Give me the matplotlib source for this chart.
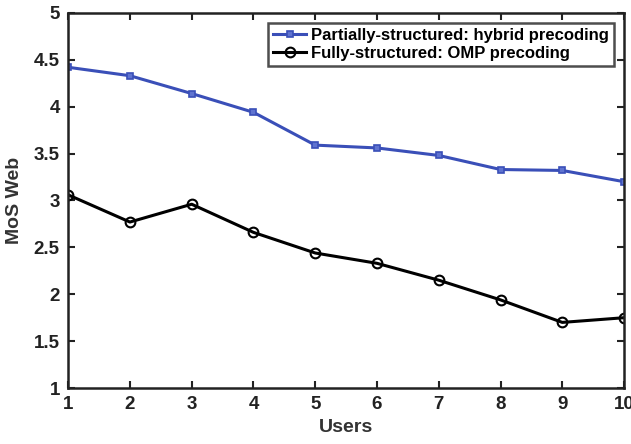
import matplotlib
matplotlib.use("Agg")
import matplotlib.pyplot as plt

users = [1, 2, 3, 4, 5, 6, 7, 8, 9, 10]
hybrid = [4.42, 4.33, 4.14, 3.94, 3.59, 3.56, 3.48, 3.33, 3.32, 3.20]
omp = [3.06, 2.77, 2.96, 2.66, 2.44, 2.33, 2.15, 1.94, 1.70, 1.75]
xticks = [1, 2, 3, 4, 5, 6, 7, 8, 9, 10]
yticks = [1, 1.5, 2, 2.5, 3, 3.5, 4, 4.5, 5]
ytick_labels = ["1", "1.5", "2", "2.5", "3", "3.5", "4", "4.5", "5"]

plt.rcParams['font.family'] = ['Liberation Sans', 'DejaVu Sans']
plt.rcParams['font.weight'] = 'bold'

fig = plt.figure(figsize=(6.31, 4.44), dpi=100)
ax = fig.add_axes([0.108, 0.126, 0.881, 0.845])

ax.plot(users, hybrid, color='#3a4fb8', lw=2.2, marker='s', ms=5,
        mfc='#5f73d0', mec='#3a4fb8', mew=1.2,
        label='Partially-structured: hybrid precoding')
ax.plot(users, omp, color='black', lw=2.2, marker='o', ms=7,
        mfc='none', mec='black', mew=1.5,
        label='Fully-structured: OMP precoding')

ax.set_xlim(1, 10)
ax.set_ylim(1, 5)
ax.set_xticks(xticks)
ax.set_xticklabels([str(v) for v in xticks])
ax.set_yticks(yticks)
ax.set_yticklabels(ytick_labels)
ax.tick_params(direction='in', top=True, right=True, length=5, width=1.5,
               labelsize=13.5, colors='#222222', pad=6)
for sp in ax.spines.values():
    sp.set_linewidth(1.8)
    sp.set_color('#222222')

ax.set_xlabel('Users', fontsize=14, fontweight='bold', color='#333333', labelpad=4)
ax.set_ylabel('MoS Web', fontsize=14, fontweight='bold', color='#333333', labelpad=8)

leg = ax.legend(loc='upper right', frameon=True, fancybox=False,
                edgecolor='#222222', borderpad=0.3, handlelength=2.0,
                handletextpad=0.3, labelspacing=0.2, borderaxespad=0.6,
                prop={'weight': 'bold', 'size': 12})
leg.get_frame().set_linewidth(1.8)

fig.savefig('out.png', dpi=100)
